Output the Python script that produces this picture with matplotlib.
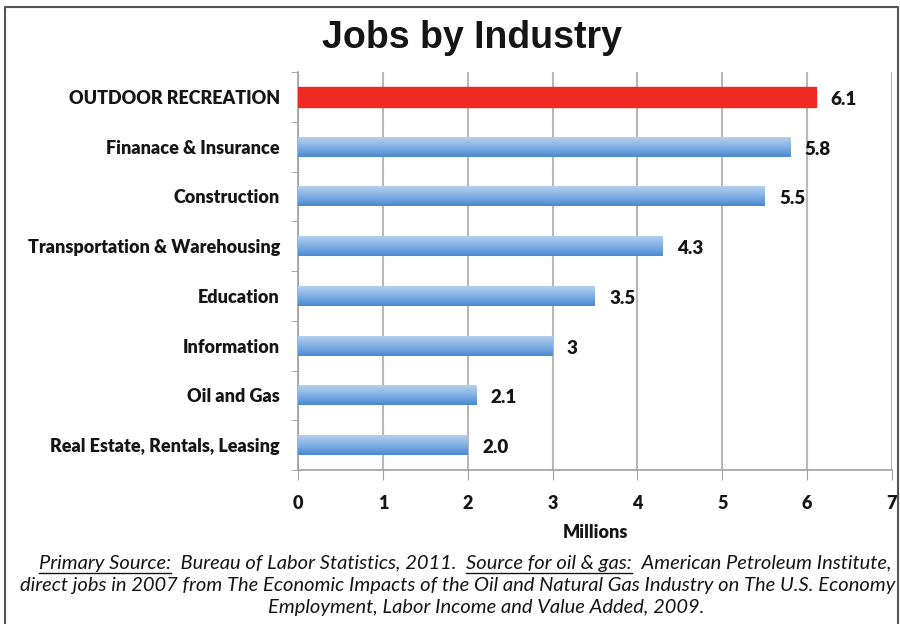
import matplotlib.pyplot as plt
import numpy as np
from matplotlib.colors import LinearSegmentedColormap
from matplotlib.lines import Line2D

# data (bottom to top)
industries = ['Real Estate, Rentals, Leasing', 'Oil and Gas', 'Information',
              'Education', 'Transportation & Warehousing', 'Construction',
              'Finanace & Insurance', 'OUTDOOR RECREATION']
jobs = [2.0, 2.1, 3.0, 3.5, 4.3, 5.5, 5.8, 6.1]
value_labels = ['2.0', '2.1', '3', '3.5', '4.3', '5.5', '5.8', '6.1']
highlight = 'OUTDOOR RECREATION'

plt.rcParams['font.family'] = ['Lato', 'DejaVu Sans']
TXT = '#151515'
W = 'heavy'

fig = plt.figure(figsize=(9, 6.24), dpi=100)
ax = fig.add_axes([298/900, 1-470/624, (892-298)/900, (470-72)/624])

y = np.arange(len(industries))
blue = LinearSegmentedColormap.from_list('b', ['#b5d0ee', '#80b0e4', '#4a89cf'])
bars = ax.barh(y, jobs, height=0.4, color='#6aa0dc', zorder=3)
for b, name in zip(bars, industries):
    if name == highlight:
        b.set_color('#ee2a22')
        continue
    x0, y0 = b.get_x(), b.get_y()
    w, h = b.get_width(), b.get_height()
    grad = np.linspace(0, 1, 50).reshape(-1, 1)
    im = ax.imshow(grad, cmap=blue, aspect='auto', origin='lower',
                   extent=[x0, x0 + w, y0 + h, y0], zorder=4)
    im.set_clip_path(b)

for yi, v, lab in zip(y, jobs, value_labels):
    ax.text(v + 0.17, yi - 0.05, lab, va='center', ha='left', fontsize=13.5,
            fontweight=W, color=TXT)

ax.set_xlim(0, 7)
ax.set_ylim(-0.5, len(industries) - 0.5)
ax.set_xticks(range(8))
ax.set_yticks(y)
ax.set_yticklabels(industries, fontsize=13, fontweight=W, color=TXT)
ax.set_yticks(np.arange(-0.5, len(industries)), minor=True)
ax.tick_params(axis='y', which='major', length=0, pad=13)
ax.tick_params(axis='y', which='minor', length=5, color='#a0a0a0')
ax.tick_params(axis='x', length=7, color='#a0a0a0', pad=11, labelsize=13,
               labelcolor=TXT)
for t in ax.get_xticklabels():
    t.set_fontweight(W)
ax.xaxis.grid(True, color='#b8b8b8', linewidth=1.5, zorder=0)
ax.set_axisbelow(True)
for s in ['top', 'right']:
    ax.spines[s].set_visible(False)
for s in ['left', 'bottom']:
    ax.spines[s].set_color('#a0a0a0')
    ax.spines[s].set_linewidth(1.2)
ax.set_xlabel('Millions', fontsize=13, fontweight=W, labelpad=9, color=TXT)

fig.text(472/900, 1-38/624, 'Jobs by Industry', ha='center', va='center',
         fontsize=27, fontweight='bold', family='Liberation Sans', color=TXT)

# footnote with underlined segments
fig.canvas.draw()
renderer = fig.canvas.get_renderer()


def seg_line(segments, ycen, xc, fs=14.5):
    texts = []
    for s, u in segments:
        t = fig.text(0, ycen, s, fontsize=fs, style='italic', va='center',
                     ha='left', color=TXT)
        texts.append((t, u))
    widths = [t.get_window_extent(renderer).width for t, u in texts]
    total = sum(widths)
    x = (xc - total / 2)
    for (t, u), w in zip(texts, widths):
        t.set_x(x / 900)
        if u:
            uy = ycen - 10 / 624
            fig.add_artist(Line2D([x / 900, (x + w) / 900], [uy, uy],
                                  transform=fig.transFigure, color=TXT,
                                  linewidth=1.0))
        x += w


seg_line([('Primary Source:', True), ('  Bureau of Labor Statistics, 2011.  ', False),
          ('Source for oil & gas:', True), ('  American Petroleum Institute,', False)],
         1 - 563/624, 465)
seg_line([('direct jobs in 2007 from The Economic Impacts of the Oil and Natural Gas Industry on The U.S. Economy', False)],
         1 - 586/624, 458)
seg_line([('Employment, Labor Income and Value Added, 2009.', False)], 1 - 608/624, 486)

# outer frame
fig.add_artist(Line2D([5/900, 5/900, 898/900, 898/900], [0, 1-7/624, 1-7/624, 0],
                      transform=fig.transFigure, color='#555555', linewidth=1.5))

fig.savefig('out.png', dpi=100)
